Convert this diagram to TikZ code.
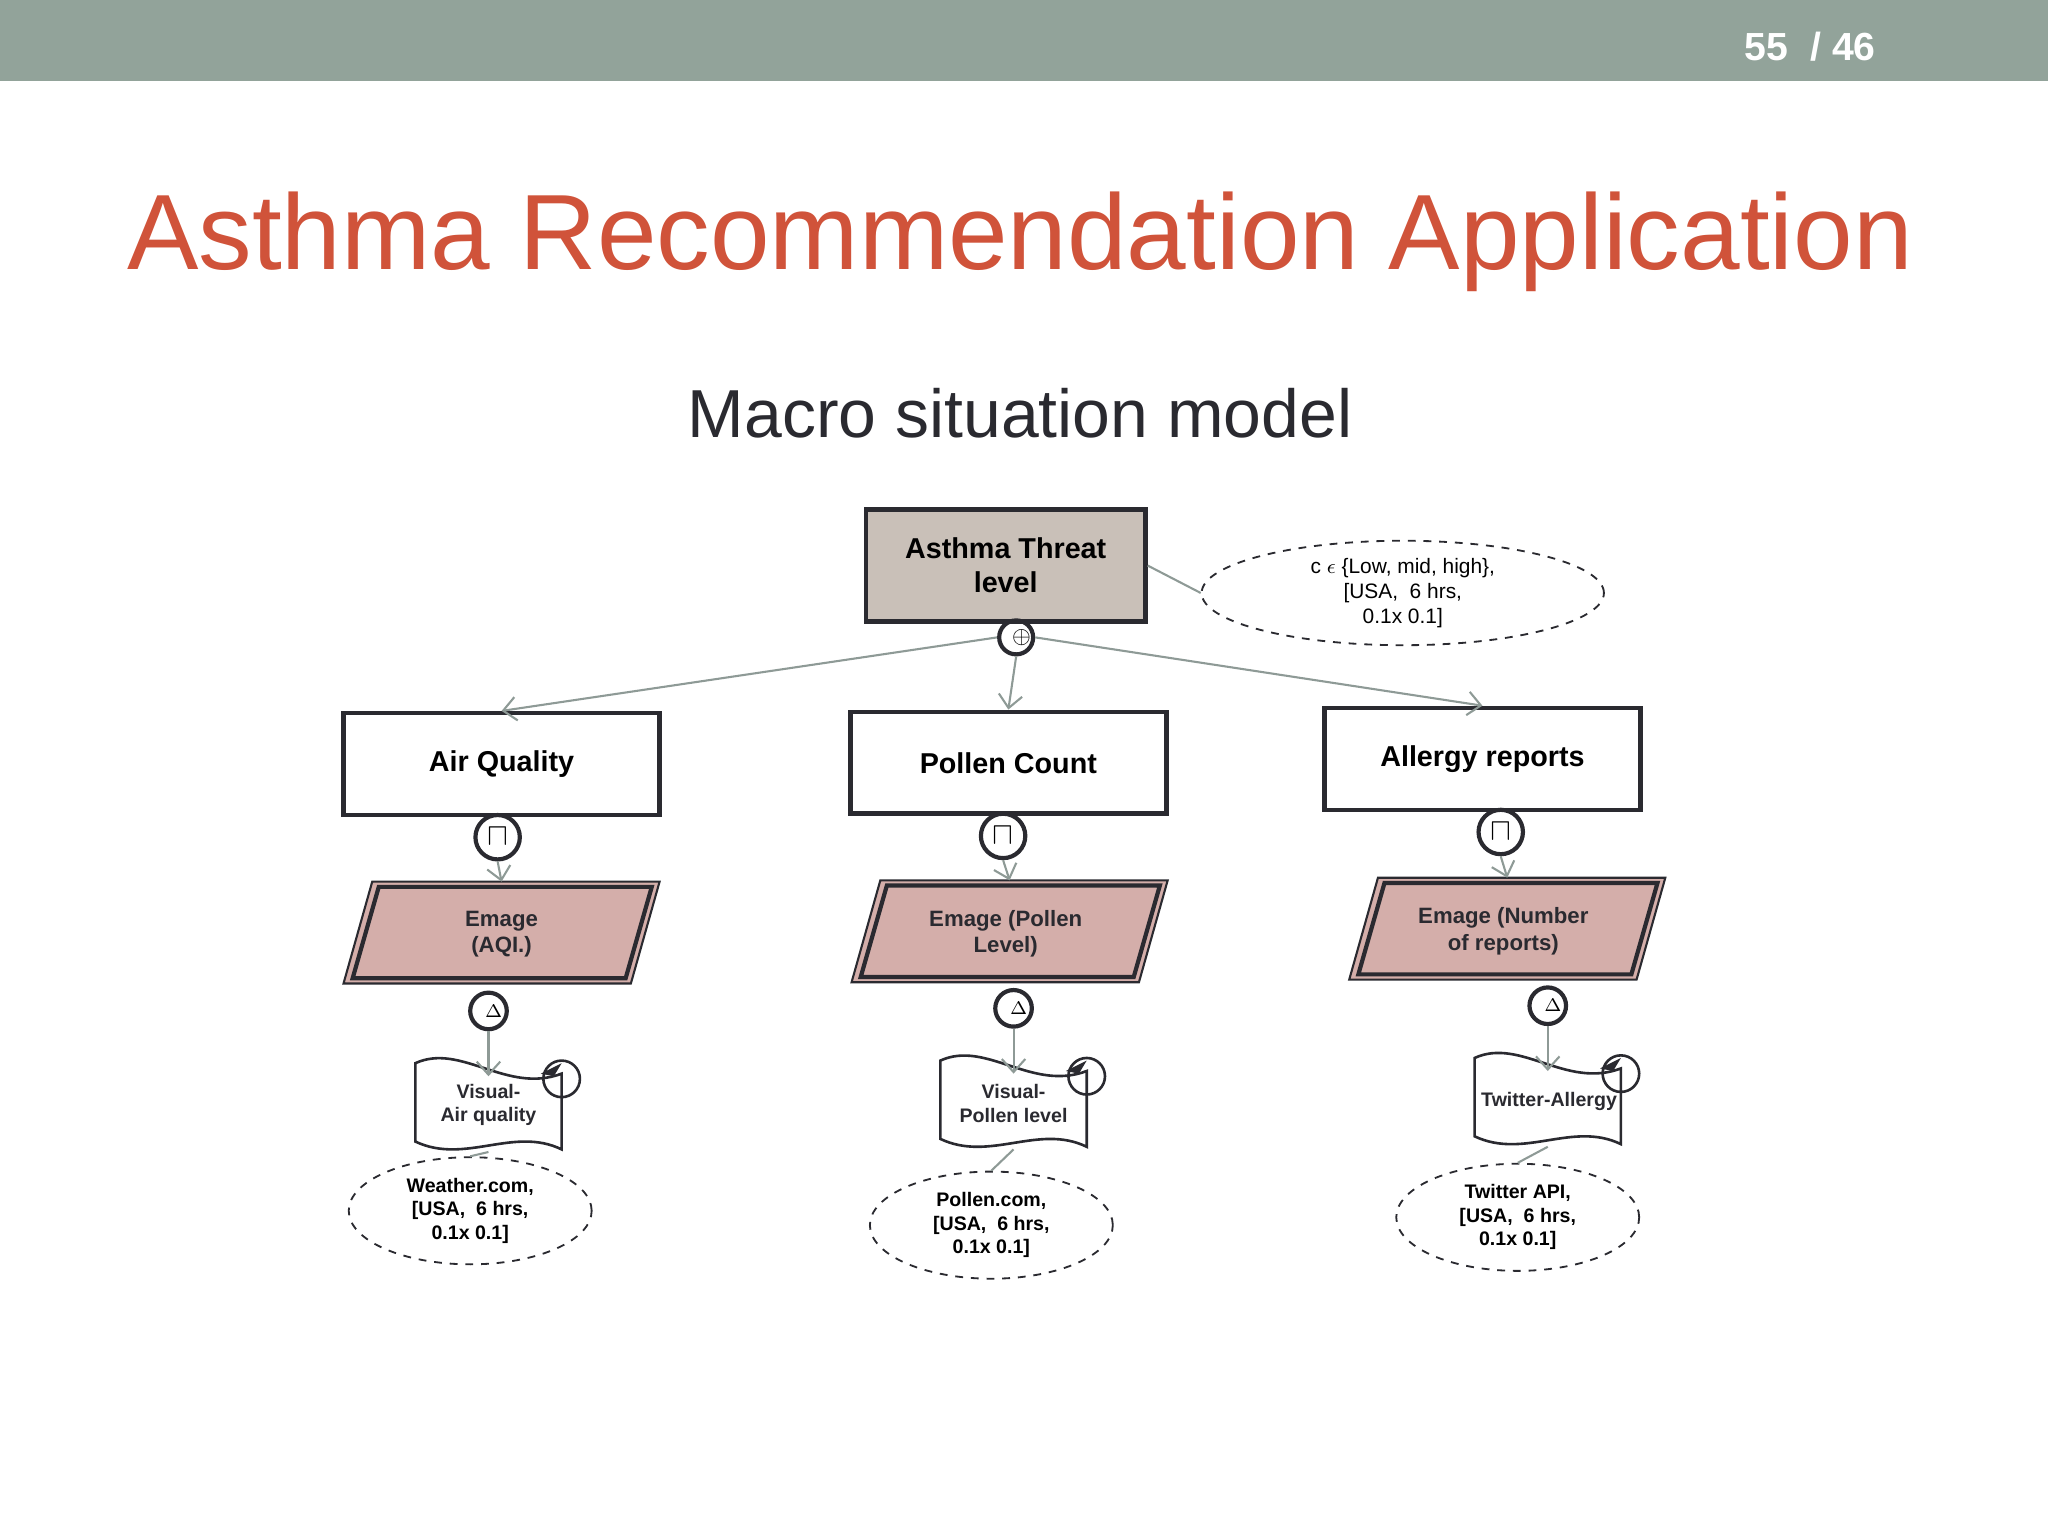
\documentclass[tikz,border=0pt]{standalone}
\usepackage{fontspec}
\setmainfont{Liberation Sans}
\usepackage{amsmath,amssymb}
\usetikzlibrary{positioning,arrows.meta}
\definecolor{bar}{HTML}{92A39A}
\definecolor{titlered}{HTML}{D0533A}
\definecolor{threat}{HTML}{C9C0B8}
\definecolor{emage}{HTML}{D4AEAA}
\definecolor{link}{HTML}{8E9A96}
\definecolor{ink}{HTML}{2A2A30}
\begin{document}
\begin{tikzpicture}[x=0.5pt,y=-0.5pt,
box/.style={rectangle,draw=ink,line width=1.7pt,minimum width=121pt,minimum height=39pt,font=\bfseries\fontsize{11}{13}\selectfont,align=center},
op/.style={circle,draw=ink,line width=1.6pt,inner sep=0pt,minimum size=17pt},
ann/.style={ellipse,draw=ink,dashed,line width=0.7pt,inner sep=0pt,align=center,font=\bfseries\fontsize{7.5}{9}\selectfont},
paths/.style={draw=link,line width=0.8pt,-{Straight Barb[length=5pt,width=9pt]}},
plain/.style={draw=link,line width=0.8pt},
label/.style={align=center,font=\bfseries\fontsize{8.5}{10}\selectfont,text=ink},
wave/.style={draw=ink,line width=1pt,fill=white}
]
\usetikzlibrary{shapes.geometric}
\useasboundingbox (0,0) rectangle (1568,1176);
\fill[bar] (0,0) rectangle (1568,62);
\node[text=white,font=\bfseries\fontsize{15}{18}\selectfont] (page) at (1386,36) {55 \ / 46};
\node[text=titlered,font=\fontsize{41}{48}\selectfont] (title) at (781,185) {Asthma Recommendation Application};
\node[text=ink,font=\fontsize{26}{30}\selectfont] (sub) at (781,316) {Macro situation model};

%create nodes
\node[box,fill=threat,minimum width=107pt,minimum height=43pt] (threat) at (770,433) {Asthma Threat\\level};
\node[ellipse,draw=ink,dashed,line width=0.7pt,inner sep=0pt,minimum width=154pt,minimum height=40pt,align=center,font=\fontsize{8}{9.5}\selectfont] (dom) at (1074,454) {c $\epsilon$ \{Low, mid, high\},\\ {[USA,\ \ 6 hrs,}\\ 0.1x 0.1]};
\node[op,minimum size=13pt] (plus) at (778,488) {};
\node[font=\small] at (782,488) {$\oplus$};

\node[box] (aq) at (384,585) {Air Quality};
\node[box] (pc) at (772,584) {Pollen Count};
\node[box] (ar) at (1135,581) {Allergy reports};

\node[op] (pi1) at (381,641) {\large$\sqcap$};
\node[op] (pi2) at (768,640) {\large$\sqcap$};
\node[op] (pi3) at (1149,637) {\large$\sqcap$};

%emage parallelograms
\foreach \n/\x/\y in {e1/263/675,e2/652/674,e3/1033/672}{
  \fill[emage] (\x+22,\y) -- (\x+242,\y) -- (\x+220,\y+78) -- (\x,\y+78) -- cycle;
  \draw[ink,line width=0.8pt] (\x+22,\y) -- (\x+242,\y) -- (\x+220,\y+78) -- (\x,\y+78) -- cycle;
  \draw[ink,line width=1.6pt] (\x+27,\y+4) -- (\x+236,\y+4) -- (\x+216,\y+74) -- (\x+7,\y+74) -- cycle;
  \coordinate (\n) at (\x+121,\y);
}
\node[label] (t1) at (384,715) {Emage\\(AQI.)};
\node[label] (t2) at (770,715) {Emage (Pollen\\Level)};
\node[label] (t3) at (1151,713) {Emage (Number\\of reports)};

\node[op,minimum size=14pt] (d1) at (374,774) {};
\node[op,minimum size=14pt] (d2) at (776,772) {};
\node[op,minimum size=14pt] (d3) at (1185,770) {};
\foreach \d in {d1,d2,d3}{\node[font=\scriptsize] at ([xshift=2pt]\d.center) {$\Delta$};}

%visual banners
\foreach \n/\x/\y in {v1/318/810,v2/720/808,v3/1129/806}{
  \draw[wave] (\x,\y+4) .. controls (\x+35,\y-12) and (\x+70,\y+28) .. (\x+112,\y+12) -- (\x+112,\y+70) .. controls (\x+75,\y+52) and (\x+38,\y+82) .. (\x,\y+64) -- cycle;
  \draw[ink,line width=1pt] (\x+112,\y+16) circle (14);
  \fill[ink] (\x+112,\y+4) -- (\x+96,\y+12) -- (\x+106,\y+14) -- cycle;
  \coordinate (\n top) at (\x+56,\y+14);
  \coordinate (\n bot) at (\x+56,\y+72);
}
\node[label,font=\bfseries\fontsize{7.5}{9}\selectfont] (vt1) at (374,846) {Visual-\\Air quality};
\node[label,font=\bfseries\fontsize{7.5}{9}\selectfont] (vt2) at (776,845) {Visual-\\Pollen level};
\node[label,font=\bfseries\fontsize{7.5}{9}\selectfont] (vt3) at (1186,843) {Twitter-Allergy};

\node[ann,minimum width=93pt,minimum height=41pt] (s1) at (360,927) {Weather.com,\\ {[USA,\ \ 6 hrs,}\\ 0.1x 0.1]};
\node[ann,minimum width=93pt,minimum height=41pt] (s2) at (759,938) {Pollen.com,\\ {[USA,\ \ 6 hrs,}\\ 0.1x 0.1]};
\node[ann,minimum width=93pt,minimum height=41pt] (s3) at (1162,932) {Twitter API,\\ {[USA,\ \ 6 hrs,}\\ 0.1x 0.1]};

%draw paths
\draw[plain] (threat.east) -- (dom.west);
\draw[paths] (plus.west) -- (aq.north);
\draw[paths] (plus.south) -- (pc.north);
\draw[paths] (plus.east) -- (ar.north);

\draw[paths] (pi1.south) -- (e1);
\draw[paths] (pi2.south) -- (e2);
\draw[paths] (pi3.south) -- (e3);

\draw[paths] (d1.south) -- (v1top);
\draw[paths] (d2.south) -- (v2top);
\draw[paths] (d3.south) -- (v3top);

\draw[plain] (v1bot) -- (s1.north);
\draw[plain] (v2bot) -- (s2.north);
\draw[plain] (v3bot) -- (s3.north);
\end{tikzpicture}
\end{document}
